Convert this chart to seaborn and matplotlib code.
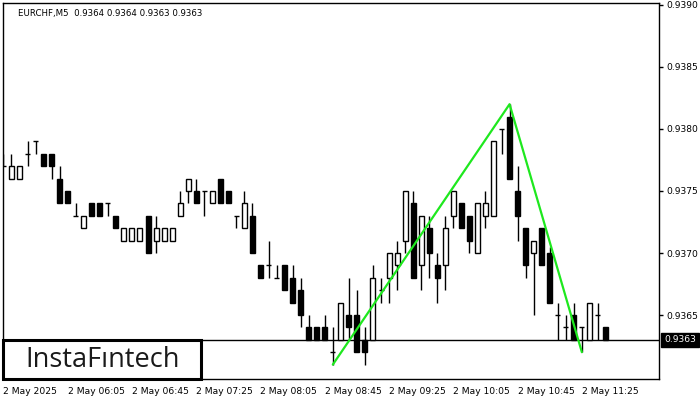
import numpy as np
import pandas as pd
import matplotlib
matplotlib.use('Agg')
import matplotlib.pyplot as plt
import seaborn as sns
from matplotlib.patches import Rectangle

# EURCHF M5 candles, 05:25 .. 11:40
opens = [0.9377, 0.9376, 0.9376, 0.9378, 0.9379, 0.9378, 0.9378, 0.9376, 0.9375, 0.9373,
         0.9372, 0.9374, 0.9374, 0.9374, 0.9373, 0.9371, 0.9371, 0.9371, 0.9373, 0.9371,
         0.9371, 0.9371, 0.9373, 0.9375, 0.9375, 0.9375, 0.9374, 0.9376, 0.9375, 0.9373,
         0.9372, 0.9373, 0.9369, 0.9369, 0.9368, 0.9369, 0.9368, 0.9367, 0.9364, 0.9364,
         0.9364, 0.9362, 0.9363, 0.9365, 0.9365, 0.9363, 0.9363, 0.9367, 0.9368, 0.9369,
         0.9371, 0.9374, 0.9369, 0.9372, 0.9369, 0.9369, 0.9373, 0.9374, 0.9373, 0.9370,
         0.9373, 0.9373, 0.9380, 0.9381, 0.9375, 0.9372, 0.9370, 0.9372, 0.9370, 0.9365,
         0.9364, 0.9365, 0.9364, 0.9363, 0.9365, 0.9364]
highs = [0.9378, 0.9378, 0.9377, 0.9379, 0.9379, 0.9378, 0.9378, 0.9377, 0.9375, 0.9374,
         0.9373, 0.9374, 0.9374, 0.9374, 0.9373, 0.9372, 0.9372, 0.9372, 0.9373, 0.9373,
         0.9372, 0.9372, 0.9375, 0.9376, 0.9376, 0.9375, 0.9375, 0.9376, 0.9375, 0.9373,
         0.9375, 0.9374, 0.9369, 0.9371, 0.9369, 0.9369, 0.9369, 0.9368, 0.9365, 0.9364,
         0.9365, 0.9364, 0.9366, 0.9368, 0.9367, 0.9364, 0.9369, 0.9368, 0.9370, 0.9371,
         0.9375, 0.9375, 0.9373, 0.9373, 0.9370, 0.9373, 0.9375, 0.9374, 0.9373, 0.9374,
         0.9375, 0.9379, 0.9380, 0.9382, 0.9377, 0.9372, 0.9371, 0.9372, 0.93705, 0.9366,
         0.9365, 0.9366, 0.9364, 0.9366, 0.9366, 0.9364]
lows = [0.9377, 0.9376, 0.9376, 0.9377, 0.9378, 0.9377, 0.9376, 0.9374, 0.9374, 0.9373,
        0.9372, 0.9373, 0.9373, 0.9373, 0.9372, 0.9371, 0.9371, 0.9371, 0.9370, 0.9370,
        0.9371, 0.9371, 0.9373, 0.9374, 0.9374, 0.9373, 0.9374, 0.9374, 0.9374, 0.9372,
        0.9372, 0.9370, 0.9368, 0.9368, 0.9368, 0.9367, 0.9366, 0.9364, 0.9363, 0.9363,
        0.9363, 0.9361, 0.9363, 0.9363, 0.9362, 0.9361, 0.9363, 0.9366, 0.9366, 0.9367,
        0.9370, 0.9368, 0.9367, 0.9368, 0.9366, 0.9367, 0.9372, 0.9372, 0.9370, 0.9370,
        0.9372, 0.9373, 0.9378, 0.9376, 0.9371, 0.9368, 0.9365, 0.9369, 0.9366, 0.9363,
        0.9363, 0.9363, 0.9362, 0.9363, 0.9363, 0.9363]
closes = [0.9377, 0.9377, 0.9377, 0.9378, 0.9379, 0.9377, 0.9377, 0.9374, 0.9374, 0.9373,
          0.9373, 0.9373, 0.9373, 0.9374, 0.9372, 0.9372, 0.9372, 0.9372, 0.9370, 0.9372,
          0.9372, 0.9372, 0.9374, 0.9376, 0.9374, 0.9375, 0.9375, 0.9374, 0.9374, 0.9373,
          0.9374, 0.9370, 0.9368, 0.9369, 0.9368, 0.9367, 0.9366, 0.9365, 0.9363, 0.9363,
          0.9363, 0.9362, 0.9366, 0.9364, 0.9362, 0.9362, 0.9368, 0.9367, 0.9370, 0.9370,
          0.9375, 0.9368, 0.9373, 0.9370, 0.9368, 0.9372, 0.9375, 0.9372, 0.9371, 0.9374,
          0.9374, 0.9379, 0.9380, 0.9376, 0.9373, 0.9369, 0.9371, 0.9369, 0.9366, 0.9365,
          0.9364, 0.9363, 0.9364, 0.9366, 0.9365, 0.9363]

time_tick_bars = [0, 8, 16, 24, 32, 40, 48, 56, 64, 72]
time_tick_labels = ['2 May 2025', '2 May 06:05', '2 May 06:45', '2 May 07:25', '2 May 08:05',
                    '2 May 08:45', '2 May 09:25', '2 May 10:05', '2 May 10:45', '2 May 11:25']
price_ticks = [0.9365, 0.9370, 0.9375, 0.9380, 0.9385, 0.9390]
last_price = 0.9363

# pattern points (bar index, price)
pattern_bars = [41, 63, 72]
pattern_prices = [0.9361, 0.9382, 0.9362]

df = pd.DataFrame({'open': opens, 'high': highs, 'low': lows, 'close': closes})
df['bar'] = np.arange(len(df))

sns.set_theme(style='white')
plt.rcParams['font.family'] = ['DejaVu Sans']

fig = plt.figure(figsize=(7, 4), dpi=100)
ax = fig.add_axes([3 / 700, 21 / 400, 656 / 700, 376 / 400])

# wicks
ax.vlines(df['bar'], df['low'], df['high'], color='black', linewidth=1, zorder=2)

# bodies
bull = df['close'] >= df['open']
body_bottom = np.minimum(df['open'], df['close'])
body_height = (df['close'] - df['open']).abs()
ax.bar(df['bar'][bull], body_height[bull], bottom=body_bottom[bull], width=0.62,
       color='white', edgecolor='black', linewidth=1, zorder=3)
ax.bar(df['bar'][~bull], body_height[~bull], bottom=body_bottom[~bull], width=0.62,
       color='black', edgecolor='black', linewidth=1, zorder=3)

# last price line
ax.axhline(last_price, color='black', linewidth=1, zorder=1)

# pattern line
sns.lineplot(x=pattern_bars, y=pattern_prices, ax=ax, color='#1ee81e', linewidth=1.6,
             sort=False, zorder=5)

ax.set_xlim(-0.05, 81.6)
ax.set_ylim(0.935984, 0.939016)

ax.yaxis.tick_right()
ax.set_yticks(price_ticks)
ax.set_yticklabels([f'{p:.4f}' for p in price_ticks])
ax.set_xticks(time_tick_bars)
ax.set_xticklabels(time_tick_labels, ha='left')
ax.tick_params(axis='both', which='both', direction='out', length=3, width=1,
               colors='black', labelsize=6.6, pad=2)
ax.tick_params(axis='x', pad=3)
for s in ax.spines.values():
    s.set_color('black')
    s.set_linewidth(1)
ax.set_xlabel('')
ax.set_ylabel('')

# current price label
ax.text(1.008, last_price, f'{last_price:.4f}', transform=ax.get_yaxis_transform(),
        ha='left', va='center', color='white', fontsize=6.6,
        bbox=dict(boxstyle='square,pad=0.3', fc='black', ec='black'), zorder=6)

# header
ax.text(0.023, 0.985, 'EURCHF,M5  0.9364 0.9364 0.9363 0.9363', transform=ax.transAxes,
        ha='left', va='top', fontsize=6.2, color='black')

# logo
ax.add_patch(Rectangle((0.0, 0.0), 198 / 656, 39 / 376, transform=ax.transAxes,
                       facecolor='white', edgecolor='black', linewidth=2.2, zorder=7,
                       clip_on=False))
ax.text(100 / 656, 19 / 376, 'InstaF\u0131ntech', transform=ax.transAxes, ha='center',
        va='center', fontsize=19.5, color='#1a1a1a', family=['Open Sans', 'DejaVu Sans'],
        zorder=8)

fig.savefig('out.png', dpi=100, facecolor='white')
